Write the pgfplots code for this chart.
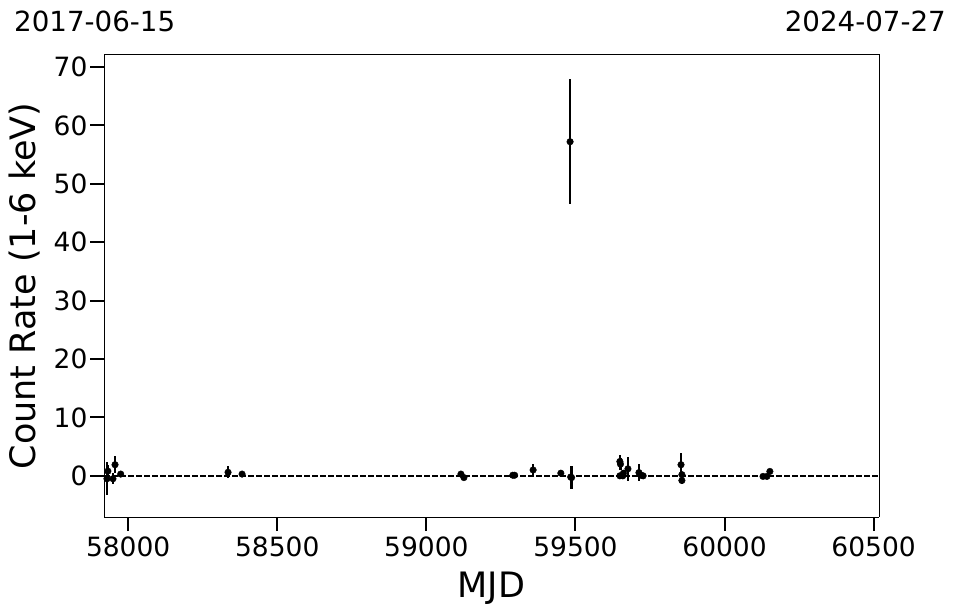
\documentclass[border=0pt]{standalone}
\usepackage{pgfplots}
\pgfplotsset{compat=1.18}
\usepackage{pgfplotstable}
\usepackage{fontspec}
\setmainfont{DejaVu Sans}

\pgfplotstableread{
x y ey
57929 -0.5 2.8
57932 0.8 1.0
57949 -0.5 0.9
57956 1.9 1.5
57975 0.3 0.3
58335 0.6 1.0
58382 0.3 0.3
59116 0.3 0.3
59126 -0.3 0.3
59290 0.1 0.2
59296 0.1 0.2
59358 1.0 1.1
59451 0.45 0.5
59482 57.2 10.7
59484 -0.2 0.4
59487 -0.3 1.9
59649 2.45 1.2
59651 2.0 1.0
59649 0.0 0.4
59661 0.45 0.5
59659 0.0 0.3
59676 1.2 2.1
59713 0.55 1.5
59720 0.1 0.4
59727 0.0 0.3
59854 1.9 2.0
59857 0.2 0.5
59857 -0.8 0.6
60129 -0.1 0.3
60142 -0.1 0.3
60152 0.75 0.5
}\datatable

\begin{document}
\begin{tikzpicture}
\useasboundingbox (0pt,0pt) rectangle (957pt,613pt);
\begin{axis}[
  at={(104pt,96pt)}, anchor=south west,
  scale only axis, width=775pt, height=462pt,
  xmin=57919, xmax=60518, ymin=-7.05, ymax=72.05,
  xtick={58000,58500,59000,59500,60000,60500},
  ytick={0,10,20,30,40,50,60,70},
  minor tick num=0,
  axis x line*=bottom, axis y line*=left,
  every outer x axis line/.append style={-},
  every outer y axis line/.append style={-},
  axis line style={line width=1pt},
  tick align=outside,
  major tick length=14pt,
  every tick/.style={black, line width=2pt},
  tick label style={font=\fontsize{26.5}{30}\selectfont},
  /pgf/number format/assume math mode=true,
  scaled x ticks=false,
  xticklabel style={/pgf/number format/1000 sep={}, yshift=-2pt},
  yticklabel style={xshift=1pt},
  xlabel={MJD}, ylabel={Count Rate (1-6 keV)},
  label style={font=\fontsize{35}{40}\selectfont},
  xlabel style={at={(axis description cs:0.5,-0.1753)}, anchor=base},
  ylabel style={at={(axis description cs:-0.0884,0.5)}, anchor=base, rotate=0},
  clip=false,
]
\draw[line width=1pt] (rel axis cs:0,1) -- (rel axis cs:1,1) -- (rel axis cs:1,0);
\addplot[black, line width=1.5pt, dash pattern=on 5.5pt off 2.5pt] coordinates {(57919,0) (60518,0)};
\addplot[only marks, mark=*, mark size=3.3pt, black,
  error bars/.cd, y dir=both, y explicit,
  error bar style={line width=2.2pt, black}, error mark=none]
  table[x=x, y=y, y error=ey] {\datatable};
\end{axis}
\node[anchor=base west, inner sep=0pt, font=\fontsize{27.7}{32}\selectfont] at (14pt,581pt) {2017-06-15};
\node[anchor=base east, inner sep=0pt, font=\fontsize{27.7}{32}\selectfont] at (946pt,581pt) {2024-07-27};
\end{tikzpicture}
\end{document}
